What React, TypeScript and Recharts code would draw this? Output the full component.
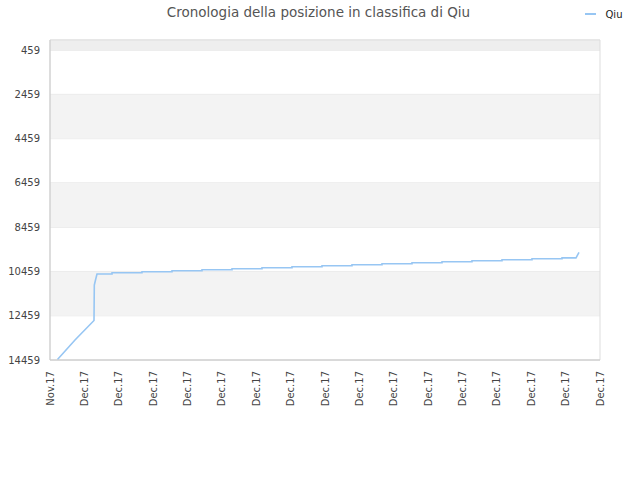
import React from 'react';
import { LineChart, Line, XAxis, YAxis, CartesianGrid, ReferenceArea } from 'recharts';

const chartTitle = 'Cronologia della posizione in classifica di Qiu';
const seriesName = 'Qiu';

const xTickPositions = [0, 1, 2, 3, 4, 5, 6, 7, 8, 9, 10, 11, 12, 13, 14, 15, 16];
const xTickLabels = [
  'Nov.17', 'Dec.17', 'Dec.17', 'Dec.17', 'Dec.17', 'Dec.17', 'Dec.17', 'Dec.17', 'Dec.17',
  'Dec.17', 'Dec.17', 'Dec.17', 'Dec.17', 'Dec.17', 'Dec.17', 'Dec.17', 'Dec.17',
];
const xDomain = [0, 16];

const yTicks = [459, 2459, 4459, 6459, 8459, 10459, 12459, 14459];
const yDomain = [1, 14459];

const bandFrom = [1, 2459, 6459, 10459];
const bandTo = [459, 4459, 8459, 12459];
const bandColors = ['#eeeeee', '#f3f3f3', '#f3f3f3', '#f3f3f3'];

const times = [
  0.218, 0.727, 1.28, 1.289, 1.324, 1.367,
  1.804, 1.804, 2.676, 2.676, 3.549, 3.549, 4.422, 4.422, 5.295, 5.295,
  6.167, 6.167, 7.04, 7.04, 7.913, 7.913, 8.785, 8.785, 9.658, 9.658,
  10.531, 10.531, 11.404, 11.404, 12.276, 12.276, 13.149, 13.149, 14.022, 14.022,
  14.895, 14.895, 15.302, 15.389,
];
const ranks = [
  14436, 13556, 12675, 11072, 10846, 10575,
  10575, 10518, 10518, 10470, 10470, 10425, 10425, 10380, 10380, 10335,
  10335, 10290, 10290, 10245, 10245, 10203, 10203, 10155, 10155, 10110,
  10110, 10065, 10065, 10020, 10020, 9975, 9975, 9930, 9930, 9885,
  9885, 9845, 9845, 9595,
];

const data = times.map((t, i) => ({ t, rank: ranks[i] }));

const FONT = '"DejaVu Sans", sans-serif';
const LINE_COLOR = '#97c6f3';

const XTick = (props: any) => {
  const { x, y, index } = props;
  const ty = y + 11;
  return (
    <text
      x={x}
      y={ty}
      dy="0.35em"
      transform={`rotate(-90 ${x} ${ty})`}
      textAnchor="end"
      fontSize={10}
      fontFamily={FONT}
      fill="#444"
    >
      {xTickLabels[index]}
    </text>
  );
};

export default function App() {
  return (
    <div style={{ position: 'absolute', left: 0, top: 0, width: 640, height: 480, background: '#fff' }}>
      <LineChart
        width={640}
        height={480}
        data={data}
        margin={{ top: 40, right: 40, bottom: 0, left: 0 }}
      >
        {bandFrom.map((y1, i) => (
          <ReferenceArea
            key={i}
            x1={xDomain[0]}
            x2={xDomain[1]}
            y1={y1}
            y2={bandTo[i]}
            fill={bandColors[i]}
            fillOpacity={1}
            stroke="none"
          />
        ))}
        <CartesianGrid vertical={false} stroke="#e3e3e3" />
        <ReferenceArea
          x1={xDomain[0]}
          x2={xDomain[1]}
          y1={yDomain[0]}
          y2={yDomain[1]}
          fill="none"
          stroke="#dddddd"
        />
        <XAxis
          dataKey="t"
          type="number"
          domain={xDomain}
          ticks={xTickPositions}
          interval={0}
          height={120}
          tickLine={false}
          tickSize={0}
          tickMargin={0}
          axisLine={{ stroke: '#cccccc' }}
          tick={<XTick />}
        />
        <YAxis
          type="number"
          domain={yDomain}
          reversed
          ticks={yTicks}
          interval={0}
          width={50}
          tickLine={false}
          tickSize={0}
          tickMargin={10}
          axisLine={{ stroke: '#cccccc' }}
          tick={{ fontSize: 10, fill: '#444', fontFamily: FONT }}
        />
        <Line
          type="linear"
          dataKey="rank"
          name={seriesName}
          stroke={LINE_COLOR}
          strokeWidth={1.6}
          dot={false}
          activeDot={false}
          isAnimationActive={false}
        />
      </LineChart>
      <svg
        width={640}
        height={30}
        style={{ position: 'absolute', left: 0, top: 0, pointerEvents: 'none' }}
      >
        <text x={318.5} y={16.5} textAnchor="middle" fontSize={13.5} fontFamily={FONT} fill="#555">
          {chartTitle}
        </text>
        <line x1={585} x2={596} y1={14} y2={14} stroke={LINE_COLOR} strokeWidth={2} />
        <text x={605.5} y={17.5} fontSize={10} fontFamily={FONT} fill="#222">
          {seriesName}
        </text>
      </svg>
    </div>
  );
}
